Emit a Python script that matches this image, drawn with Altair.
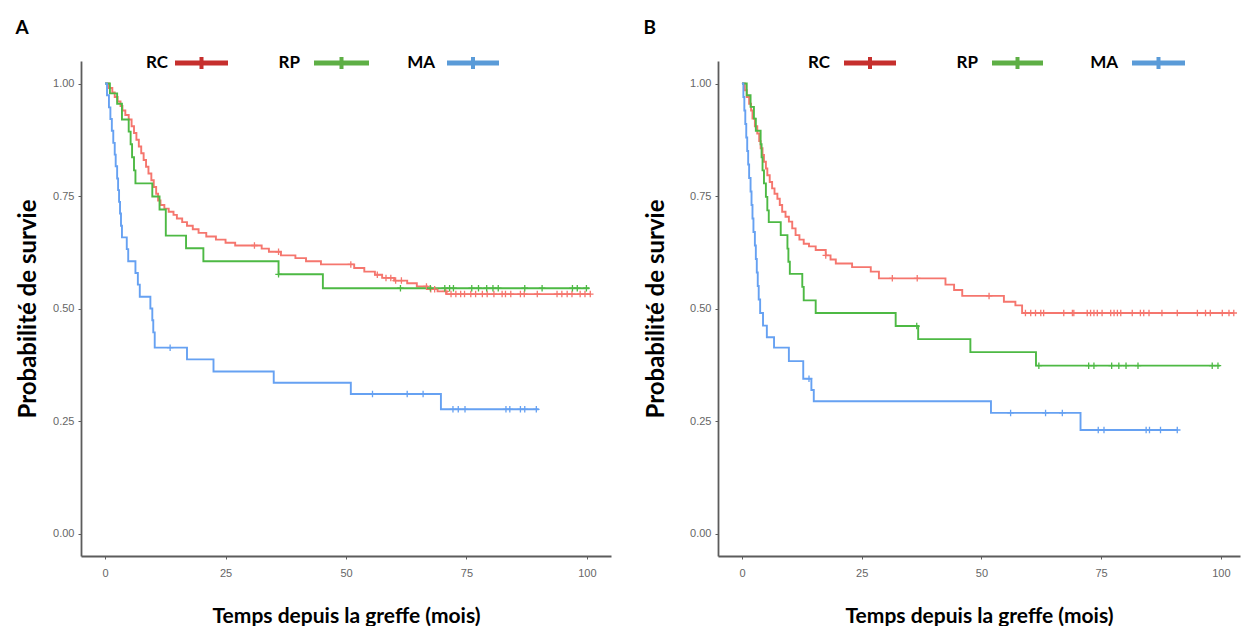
import altair as alt
import pandas as pd
import numpy as np

groups = ["RC", "RP", "MA"]
curve_colors = ["#F5766E", "#4DB944", "#66A1F2"]
legend_colors = ["#C62F2D", "#5EAF45", "#5A9BD8"]

# ---------------- Panel A ----------------
a_rc_t = [0, 0.8, 1.5, 2.0, 2.6, 3.2, 3.6, 4.2, 4.9, 5.5, 6.0, 6.5, 7.0, 7.5, 8.0, 8.5, 9.0, 9.6,
          10.1, 10.6, 11.0, 11.5, 12.3, 13.2, 14.2, 14.9, 16.0, 17.0, 18.2, 19.4, 21.0, 23.0, 25.0,
          27.0, 32.5, 34.0, 36.5, 39.5, 41.7, 44.8, 51.7, 53.8, 56.0, 57.5, 60.0, 62.7, 64.7, 66.8,
          69.0, 70.9, 100.8]
a_rc_s = [1.0, 0.99, 0.98, 0.97, 0.96, 0.95, 0.94, 0.93, 0.92, 0.905, 0.89, 0.875, 0.86, 0.845,
          0.83, 0.815, 0.80, 0.785, 0.77, 0.755, 0.74, 0.73, 0.722, 0.715, 0.708, 0.70, 0.692,
          0.684, 0.676, 0.668, 0.66, 0.653, 0.646, 0.64, 0.633, 0.626, 0.618, 0.612, 0.605, 0.598,
          0.59, 0.582, 0.575, 0.568, 0.562, 0.556, 0.549, 0.543, 0.538, 0.532, 0.532]
a_rc_cens = [31.0, 36.0, 51.0, 56.5, 58.3, 59.3, 60.3, 61.5, 66.7, 67.6, 68.4, 70.7, 71.8, 72.8,
             73.8, 74.6, 75.9, 76.9, 78.3, 79.3, 80.7, 82.4, 83.1, 84.2, 86.2, 87.0, 89.7, 93.8,
             94.8, 95.9, 96.9, 98.6, 99.6, 100.7]

a_rp_t = [0, 1.0, 2.5, 3.5, 4.9, 5.3, 5.6, 6.0, 6.3, 9.8, 11.3, 12.6, 16.8, 20.4, 36.0, 45.2, 100.5]
a_rp_s = [1.0, 0.978, 0.955, 0.92, 0.893, 0.865, 0.836, 0.807, 0.778, 0.749, 0.72, 0.662, 0.634,
          0.605, 0.576, 0.545, 0.545]
a_rp_cens = [36.0, 61.3, 67.5, 70.5, 71.5, 72.3, 76.1, 77.5, 79.2, 80.5, 81.6, 87.1, 90.7, 97.0,
             98.0, 99.9]

a_ma_t = [0, 0.4, 0.8, 1.1, 1.4, 1.7, 2.0, 2.2, 2.5, 2.7, 2.9, 3.1, 3.3, 3.5, 4.5, 4.8, 6.3, 6.8,
          7.2, 9.4, 9.8, 10.0, 10.3, 17.0, 22.5, 35.0, 51.0, 69.7, 90.0]
a_ma_s = [1.0, 0.974, 0.947, 0.921, 0.895, 0.868, 0.842, 0.816, 0.789, 0.763, 0.737, 0.711, 0.684,
          0.658, 0.632, 0.605, 0.579, 0.553, 0.526, 0.50, 0.474, 0.447, 0.413, 0.387, 0.36, 0.335,
          0.31, 0.276, 0.276]
a_ma_cens = [13.5, 55.5, 62.7, 66.0, 72.2, 73.3, 74.7, 83.2, 84.0, 86.2, 87.1, 89.5]

# ---------------- Panel B ----------------
b_rc_t = [0, 0.6, 1.0, 1.5, 1.9, 2.2, 2.7, 3.2, 3.6, 3.9, 4.3, 4.6, 5.0, 5.3, 5.8, 6.3, 6.8, 7.4,
          7.9, 8.4, 9.1, 9.8, 10.5, 11.2, 12.0, 12.9, 14.0, 15.4, 17.5, 18.5, 19.6, 23.0, 26.9,
          28.6, 42.5, 44.3, 46.0, 54.7, 57.1, 58.5, 102.7]
b_rc_s = [1.0, 0.985, 0.97, 0.955, 0.94, 0.922, 0.905, 0.889, 0.872, 0.856, 0.841, 0.826, 0.811,
          0.796, 0.781, 0.767, 0.755, 0.744, 0.73, 0.715, 0.704, 0.693, 0.678, 0.663, 0.653, 0.644,
          0.638, 0.63, 0.618, 0.609, 0.60, 0.592, 0.582, 0.567, 0.553, 0.541, 0.528, 0.515, 0.507,
          0.49, 0.49]
b_rc_cens = [17.5, 31.4, 36.6, 51.6, 59.2, 60.3, 61.3, 62.4, 63.0, 67.2, 69.0, 69.3, 72.1, 72.8,
             73.5, 74.2, 75.2, 77.0, 77.7, 78.4, 79.1, 81.5, 83.2, 83.9, 85.0, 87.7, 90.9, 95.1,
             96.8, 97.8, 100.3, 101.7, 102.7]

b_rp_t = [0, 1.0, 1.8, 2.5, 2.9, 3.9, 4.1, 4.3, 4.6, 5.0, 5.3, 5.6, 8.1, 9.5, 9.7, 10.0, 12.6, 12.9,
          15.4, 32.1, 36.8, 47.7, 61.4, 99.8]
b_rp_s = [1.0, 0.974, 0.948, 0.922, 0.895, 0.865, 0.836, 0.807, 0.778, 0.748, 0.718, 0.692, 0.663,
          0.633, 0.604, 0.577, 0.548, 0.518, 0.49, 0.461, 0.432, 0.403, 0.373, 0.373]
b_rp_cens = [36.5, 62.0, 72.4, 73.5, 77.2, 78.7, 80.2, 82.7, 98.2, 99.4]

b_ma_t = [0, 0.3, 0.5, 0.7, 0.9, 1.1, 1.3, 1.5, 1.8, 2.0, 2.2, 2.4, 2.7, 2.9, 3.1, 3.3, 3.5, 3.8,
          4.4, 5.2, 6.7, 9.8, 12.8, 14.5, 15.0, 52.0, 70.7, 91.0]
b_ma_s = [1.0, 0.97, 0.94, 0.91, 0.88, 0.85, 0.82, 0.79, 0.76, 0.73, 0.70, 0.67, 0.64, 0.61, 0.58,
          0.55, 0.52, 0.49, 0.462, 0.436, 0.413, 0.383, 0.344, 0.319, 0.294, 0.268, 0.23, 0.23]
b_ma_cens = [14.0, 56.1, 63.4, 66.9, 74.4, 75.6, 84.4, 85.1, 87.4, 90.9]

x_ticks = [0, 25, 50, 75, 100]
y_ticks = [0, 0.25, 0.5, 0.75, 1.0]

# ---------------- helpers ----------------
def curve_frame(series):
    rows = []
    for g, (t, s) in series.items():
        for ti, si in zip(t, s):
            rows.append({"group": g, "t": ti, "s": si})
    return pd.DataFrame(rows)


def censor_frame(series, cens):
    rows = []
    for g, (t, s) in series.items():
        ta = np.array(t)
        for c in cens[g]:
            i = int(np.searchsorted(ta, c, side="right")) - 1
            rows.append({"group": g, "t": c, "s": s[max(i, 0)]})
    return pd.DataFrame(rows)


FONT = "Lato"


def panel(series, cens, label, width, xdom, legend_pos, ytitle_pad):
    curves = curve_frame(series)
    censors = censor_frame(series, cens)
    color = alt.Color("group:N", scale=alt.Scale(domain=groups, range=curve_colors), legend=None)
    x = alt.X("t:Q", scale=alt.Scale(domain=xdom, nice=False, zero=False),
              axis=alt.Axis(values=x_ticks, title="Temps depuis la greffe (mois)",
                            labelPadding=8, titlePadding=27, titleFontSize=21))
    y = alt.Y("s:Q", scale=alt.Scale(domain=[-0.05, 1.05], nice=False, zero=False),
              axis=alt.Axis(values=y_ticks, format=".2f", title="Probabilité de survie",
                            labelPadding=4, titlePadding=ytitle_pad, titleFontSize=24))
    lines = alt.Chart(curves).mark_line(interpolate="step-after", strokeWidth=1.9).encode(
        x=x, y=y, color=color, order="t:Q")
    marks = alt.Chart(censors).mark_point(shape="M-1,0H1M0,-1V1", size=42, filled=False,
                                          strokeWidth=1.3, opacity=1).encode(
        x="t:Q", y="s:Q", color=color)
    layers = [lines, marks]
    legend_y = 2
    for g, lc in zip(groups, legend_colors):
        tx, x1, x2 = legend_pos[g]
        one = pd.DataFrame({"group": [g]})
        layers.append(alt.Chart(one).mark_text(align="right", baseline="middle", font=FONT,
                                               fontWeight="bold", fontSize=17, color="black").encode(
            x=alt.value(tx), y=alt.value(legend_y), text="group:N"))
        layers.append(alt.Chart(one).mark_rule(strokeWidth=5, color=lc).encode(
            x=alt.value(x1), x2=alt.value(x2), y=alt.value(legend_y)))
        layers.append(alt.Chart(one).mark_rule(strokeWidth=4, color=lc).encode(
            x=alt.value((x1 + x2) / 2), y=alt.value(legend_y - 6), y2=alt.value(legend_y + 6)))
    return alt.layer(*layers).properties(
        width=width, height=495,
        title=alt.TitleParams(label, anchor="start", frame="bounds", fontSize=19, font=FONT,
                              fontWeight="bold", color="black", offset=16, dx=-1))


panel_a = panel({"RC": (a_rc_t, a_rc_s), "RP": (a_rp_t, a_rp_s), "MA": (a_ma_t, a_ma_s)},
                {"RC": a_rc_cens, "RP": a_rp_cens, "MA": a_ma_cens},
                "A", 530, [-5, 105],
                {"RC": (87, 94, 147), "RP": (219, 233, 288), "MA": (354, 366, 418)}, 12)
panel_b = panel({"RC": (b_rc_t, b_rc_s), "RP": (b_rp_t, b_rp_s), "MA": (b_ma_t, b_ma_s)},
                {"RC": b_rc_cens, "RP": b_rp_cens, "MA": b_ma_cens},
                "B", 522, [-5, 104],
                {"RC": (112, 126, 178), "RP": (260, 274, 325), "MA": (400, 414, 467)}, 21)

chart = alt.hconcat(panel_a, panel_b, spacing=32).properties(
    padding={"left": 15, "top": 19, "right": 5, "bottom": 0}
).configure_view(stroke=None).configure_axis(
    grid=False, domainColor="#5c5c5c", domainWidth=1.8, tickColor="#5c5c5c", tickSize=3,
    labelColor="#666666", labelFontSize=11, labelFont="Liberation Sans",
    titleFont=FONT, titleFontWeight="bold", titleColor="black"
)

chart.save("out.html", embed_options={"renderer": "svg", "actions": False})
